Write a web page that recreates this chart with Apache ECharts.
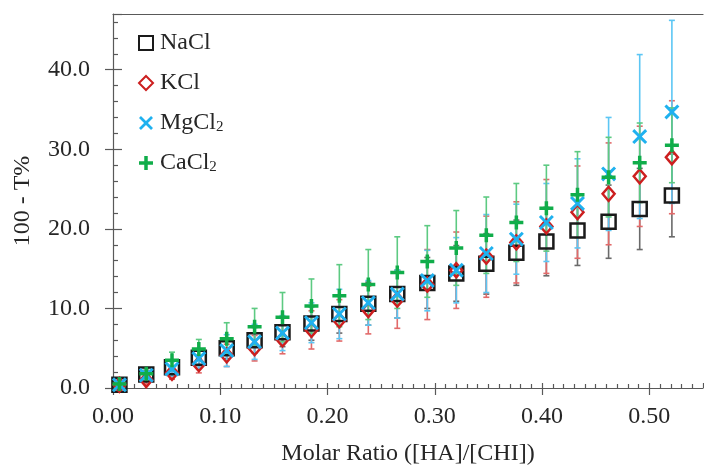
<!DOCTYPE html>
<html>
<head>
<meta charset="utf-8">
<script src="https://cdn.jsdelivr.net/npm/echarts@6/dist/echarts.min.js"></script>
<style>
  html, body { margin: 0; padding: 0; background: #fff; }
  #chart { width: 704px; height: 471px; }
</style>
</head>
<body>
<div id="chart"></div>
<script>
// Molar ratio [HA]/[CHI] for each measurement
const molarRatio = [0.006, 0.031, 0.055, 0.080, 0.106, 0.132, 0.158, 0.185, 0.211, 0.238,
                    0.265, 0.293, 0.320, 0.348, 0.376, 0.404, 0.433, 0.462, 0.491, 0.521];

// 100 - T% and its standard deviation, per salt
const naclValues = [0.4, 1.7, 2.6, 3.8, 5.0, 6.0, 7.0, 8.1, 9.3, 10.6, 11.8, 13.2, 14.4, 15.6, 17.0, 18.4, 19.8, 20.9, 22.5, 24.2];
const naclErrors = [0.2, 0.5, 0.8, 1.0, 1.3, 1.6, 1.8, 2.1, 2.4, 2.7, 3.0, 3.2, 3.5, 3.8, 4.1, 4.3, 4.4, 4.6, 5.1, 5.2];

const kclValues = [0.4, 1.0, 1.9, 3.0, 4.1, 5.0, 6.1, 7.3, 8.5, 9.8, 11.1, 13.0, 14.8, 16.5, 18.3, 20.3, 22.1, 24.4, 26.6, 29.0];
const kclErrors = [0.2, 0.5, 0.8, 1.1, 1.4, 1.6, 1.8, 2.4, 2.6, 3.0, 3.6, 4.4, 4.8, 5.1, 5.1, 5.9, 5.8, 6.4, 6.3, 7.1];

const mgcl2Values = [0.4, 1.6, 2.4, 3.7, 4.7, 5.8, 6.9, 8.2, 9.3, 10.7, 11.8, 13.5, 14.8, 16.9, 18.7, 20.8, 23.2, 26.9, 31.6, 34.7];
const mgcl2Errors = [0.2, 0.5, 0.9, 1.2, 2.0, 2.2, 2.2, 2.5, 3.1, 2.8, 3.0, 3.8, 4.1, 4.9, 4.4, 4.9, 5.6, 7.1, 10.3, 11.5];

const cacl2Values = [0.5, 1.8, 3.5, 4.9, 6.2, 7.7, 8.9, 10.3, 11.6, 13.0, 14.5, 15.9, 17.6, 19.2, 20.8, 22.6, 24.3, 26.5, 28.3, 30.5];
const cacl2Errors = [0.3, 0.6, 1.0, 1.2, 2.0, 2.3, 3.1, 3.4, 3.9, 4.4, 4.5, 4.5, 4.7, 4.8, 4.9, 5.4, 5.4, 5.0, 5.0, 4.7];

const seriesNames = ['NaCl', 'KCl', 'MgCl\u2082', 'CaCl\u2082'];

// Tick labels
const xTicks = [0, 0.1, 0.2, 0.3, 0.4, 0.5];
const yTicks = [0, 10, 20, 30, 40];

const FONT = 'Liberation Serif';
const TEXT = '#262626';
const AXIS = '#595959';

const PLUS_PATH = 'path://M3.75,0H6.25V3.75H10V6.25H6.25V10H3.75V6.25H0V3.75H3.75Z';
const CROSS_PATH = 'path://M0,1.4L1.4,0L5,3.6L8.6,0L10,1.4L6.4,5L10,8.6L8.6,10L5,6.4L1.4,10L0,8.6L3.6,5Z';

function pairs(values) {
  return molarRatio.map((x, i) => [x, values[i]]);
}

function errorBars(name, values, errors, color) {
  return {
    type: 'custom',
    name: name + '-sd',
    silent: true,
    z: 1,
    data: molarRatio.map((x, i) => [x, values[i], errors[i]]),
    encode: { x: 0, y: 1 },
    renderItem(params, api) {
      const x = api.value(0), v = api.value(1), e = api.value(2);
      const top = api.coord([x, v + e]);
      const bot = api.coord([x, v - e]);
      const cap = 3;
      const style = { stroke: color, lineWidth: 1.6 };
      return {
        type: 'group',
        children: [
          { type: 'line', shape: { x1: top[0], y1: top[1], x2: bot[0], y2: bot[1] }, style },
          { type: 'line', shape: { x1: top[0] - cap, y1: top[1], x2: top[0] + cap, y2: top[1] }, style },
          { type: 'line', shape: { x1: bot[0] - cap, y1: bot[1], x2: bot[0] + cap, y2: bot[1] }, style }
        ]
      };
    }
  };
}

const axisLineStyle = { color: AXIS, width: 1.2 };
const labelStyle = { fontFamily: FONT, fontSize: 24, color: TEXT };

const chart = echarts.init(document.getElementById('chart'), null, { renderer: 'canvas' });

chart.setOption({
  animation: false,
  backgroundColor: '#fff',
  grid: { left: 113, right: 1, top: 14, bottom: 75, containLabel: false },
  legend: {
    data: seriesNames,
    orient: 'vertical',
    left: 133,
    top: 26,
    itemGap: 16,
    itemWidth: 14,
    itemHeight: 14,
    selectedMode: false,
    // chemical subscripts drawn smaller and dropped below the baseline
    formatter: name => name.replace('\u2082', '{sub|2}'),
    textStyle: {
      fontFamily: FONT, fontSize: 24, color: TEXT, padding: [0, 0, 0, 2],
      rich: {
        sub: { fontFamily: FONT, fontSize: 15, color: TEXT, lineHeight: 10, verticalAlign: 'bottom' }
      }
    }
  },
  xAxis: [
    {
      type: 'value', min: 0, max: 0.55, interval: 0.1, position: 'bottom',
      name: 'Molar Ratio ([HA]/[CHI])', nameLocation: 'middle', nameGap: 54,
      nameTextStyle: labelStyle,
      axisLine: { show: true, onZero: false, lineStyle: axisLineStyle },
      axisTick: { show: true, inside: false, length: 7, customValues: xTicks, lineStyle: axisLineStyle },
      axisLabel: { show: true, customValues: xTicks, margin: 17, formatter: v => v.toFixed(2), ...labelStyle },
      splitLine: { show: false }
    },
    {
      type: 'value', min: 0, max: 0.55, interval: 0.1, position: 'bottom',
      axisLine: { show: false, onZero: false },
      axisTick: { show: true, inside: true, length: 5, lineStyle: axisLineStyle },
      minorTick: { show: true, splitNumber: 10, length: 4, lineStyle: axisLineStyle },
      axisLabel: { show: false },
      splitLine: { show: false }
    },
    {
      type: 'value', min: 0, max: 0.55, position: 'top',
      axisLine: { show: true, onZero: false, lineStyle: axisLineStyle },
      axisTick: { show: false },
      axisLabel: { show: false },
      splitLine: { show: false }
    }
  ],
  yAxis: [
    {
      type: 'value', min: 0, max: 47, interval: 10, position: 'left',
      name: '100 - T%', nameLocation: 'middle', nameGap: 78,
      nameTextStyle: labelStyle,
      axisLine: { show: true, onZero: false, lineStyle: axisLineStyle },
      axisTick: { show: true, inside: false, length: 8, customValues: yTicks, lineStyle: axisLineStyle },
      axisLabel: { show: true, customValues: yTicks, margin: 23, formatter: v => v.toFixed(1), ...labelStyle },
      splitLine: { show: false }
    },
    {
      type: 'value', min: 0, max: 47, interval: 10, position: 'left',
      axisLine: { show: false, onZero: false },
      axisTick: { show: true, inside: true, length: 9, lineStyle: axisLineStyle },
      minorTick: { show: true, splitNumber: 5, length: 5, lineStyle: axisLineStyle },
      axisLabel: { show: false },
      splitLine: { show: false }
    }
  ],
  series: [
    errorBars('NaCl', naclValues, naclErrors, '#6a6a6a'),
    errorBars('KCl', kclValues, kclErrors, '#e26a6a'),
    errorBars('MgCl2', mgcl2Values, mgcl2Errors, '#5cc6f4'),
    errorBars('CaCl2', cacl2Values, cacl2Errors, '#5dca82'),
    {
      type: 'scatter', name: seriesNames[0], data: pairs(naclValues), z: 3,
      symbol: 'rect', symbolSize: 14,
      itemStyle: { color: 'rgba(255,255,255,0)', borderColor: '#1a1a1a', borderWidth: 2.5, opacity: 1 },
      emphasis: { disabled: true }
    },
    {
      type: 'scatter', name: seriesNames[1], data: pairs(kclValues), z: 3,
      symbol: 'diamond', symbolSize: [12, 14],
      itemStyle: { color: 'rgba(255,255,255,0)', borderColor: '#cc1f1f', borderWidth: 2.5, opacity: 1 },
      emphasis: { disabled: true }
    },
    {
      type: 'scatter', name: seriesNames[2], data: pairs(mgcl2Values), z: 3,
      symbol: CROSS_PATH, symbolSize: 15,
      itemStyle: { color: '#1fb1ef', opacity: 1 },
      emphasis: { disabled: true }
    },
    {
      type: 'scatter', name: seriesNames[3], data: pairs(cacl2Values), z: 3,
      symbol: PLUS_PATH, symbolSize: 14,
      itemStyle: { color: '#10ad4a', opacity: 1 },
      emphasis: { disabled: true }
    }
  ]
});
</script>
</body>
</html>
